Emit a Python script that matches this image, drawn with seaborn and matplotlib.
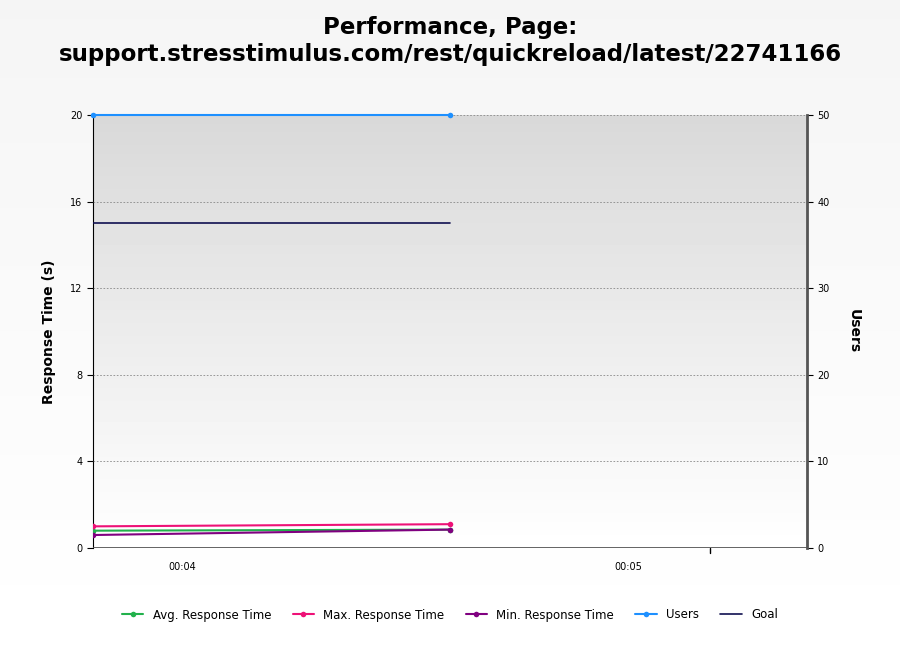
import numpy as np
import matplotlib
matplotlib.use("Agg")
import matplotlib.pyplot as plt
import seaborn as sns

# Daten (Sekunden seit Start)
zeit = [228, 276]
avg_zeit = [0.8, 0.85]
max_zeit = [1.0, 1.1]
min_zeit = [0.6, 0.85]
users = [50, 50]
goal = [15, 15]
tick_pos = [240, 300]
tick_labels = ["00:04", "00:05"]

sns.set_style("white")
plt.rcParams["font.family"] = ["DejaVu Sans"]
plt.rcParams["text.color"] = "black"
plt.rcParams["axes.labelcolor"] = "black"
plt.rcParams["xtick.color"] = "black"
plt.rcParams["ytick.color"] = "black"

fig = plt.figure(figsize=(9, 6.5), dpi=100)
# Hintergrundverlauf der Figur
bg = fig.add_axes([0, 0, 1, 1], zorder=-10)
bg.imshow(np.linspace(0.96, 1, 100).reshape(-1, 1), cmap="gray", vmin=0, vmax=1,
          aspect="auto", extent=[0, 1, 0, 1])
bg.axis("off")

ax = fig.add_axes([93 / 900, 1 - 548 / 650, 714 / 900, 433 / 650])
ax.imshow(np.linspace(0.85, 1, 100).reshape(-1, 1), cmap="gray", vmin=0, vmax=1,
          aspect="auto", extent=[228, 324, 0, 20], zorder=0)
ax.set_xlim(228, 324)
ax.set_ylim(0, 20)
ax.set_yticks([0, 4, 8, 12, 16, 20])
ax.grid(axis="y", color="#888888", linestyle=(0, (2, 2)), linewidth=0.6)
ax.set_axisbelow(False)

sns.lineplot(x=zeit, y=avg_zeit, ax=ax, color="#22b14c", marker="o", markersize=4,
             markeredgewidth=0, label="Avg. Response Time", zorder=3)
sns.lineplot(x=zeit, y=max_zeit, ax=ax, color="#ee1177", marker="o", markersize=4,
             markeredgewidth=0, label="Max. Response Time", zorder=3)
sns.lineplot(x=zeit, y=min_zeit, ax=ax, color="#800080", marker="o", markersize=4,
             markeredgewidth=0, label="Min. Response Time", zorder=3)

ax2 = ax.twinx()
ax2.set_ylim(0, 50)
ax2.set_yticks([0, 10, 20, 30, 40, 50])
sns.lineplot(x=zeit, y=users, ax=ax2, color="#1e90ff", marker="o", markersize=4,
             markeredgewidth=0, label="Users", clip_on=False, zorder=6)
ax.plot(zeit, goal, color="#101050", linewidth=1.2, label="Goal", zorder=3)

ax.set_xticks(tick_pos)
ax.set_xticklabels(tick_labels, fontsize=7)
ax.tick_params(axis="x", length=0, pad=10)
ax.tick_params(axis="y", labelsize=7, length=4, direction="out")
ax2.tick_params(axis="y", labelsize=7, length=4, direction="out")
ax.axvline(311, ymin=-0.012, ymax=0, color="black", linewidth=1, clip_on=False)

for a in (ax, ax2):
    for s in a.spines.values():
        s.set_visible(False)
ax.spines["left"].set_visible(True)
ax.spines["left"].set_color("black")
ax2.spines["right"].set_visible(True)
ax2.spines["right"].set_color("#555555")
ax2.spines["right"].set_linewidth(2)
ax.axhline(0, color="#555555", linewidth=2, zorder=5)

ax.set_ylabel("Response Time (s)", fontsize=10, fontweight="bold", labelpad=10)
ax2.set_ylabel("Users", fontsize=10, fontweight="bold", rotation=270, labelpad=22)
ax.set_xlabel("")
ax2.set_xlabel("")

h1, l1 = ax.get_legend_handles_labels()
h2, l2 = ax2.get_legend_handles_labels()
ax.legend_.remove() if ax.legend_ else None
ax2.legend_.remove() if ax2.legend_ else None
fig.legend(h1[:3] + h2 + h1[3:], l1[:3] + l2 + l1[3:], loc="center",
           bbox_to_anchor=(0.5, 1 - 615 / 650), ncol=5, frameon=False, fontsize=8.5,
           handlelength=1.8, columnspacing=1.8)

fig.suptitle("Performance, Page:\nsupport.stresstimulus.com/rest/quickreload/latest/22741166",
             fontsize=16.5, fontweight="bold", y=0.975)

fig.savefig("out.png", dpi=100)
